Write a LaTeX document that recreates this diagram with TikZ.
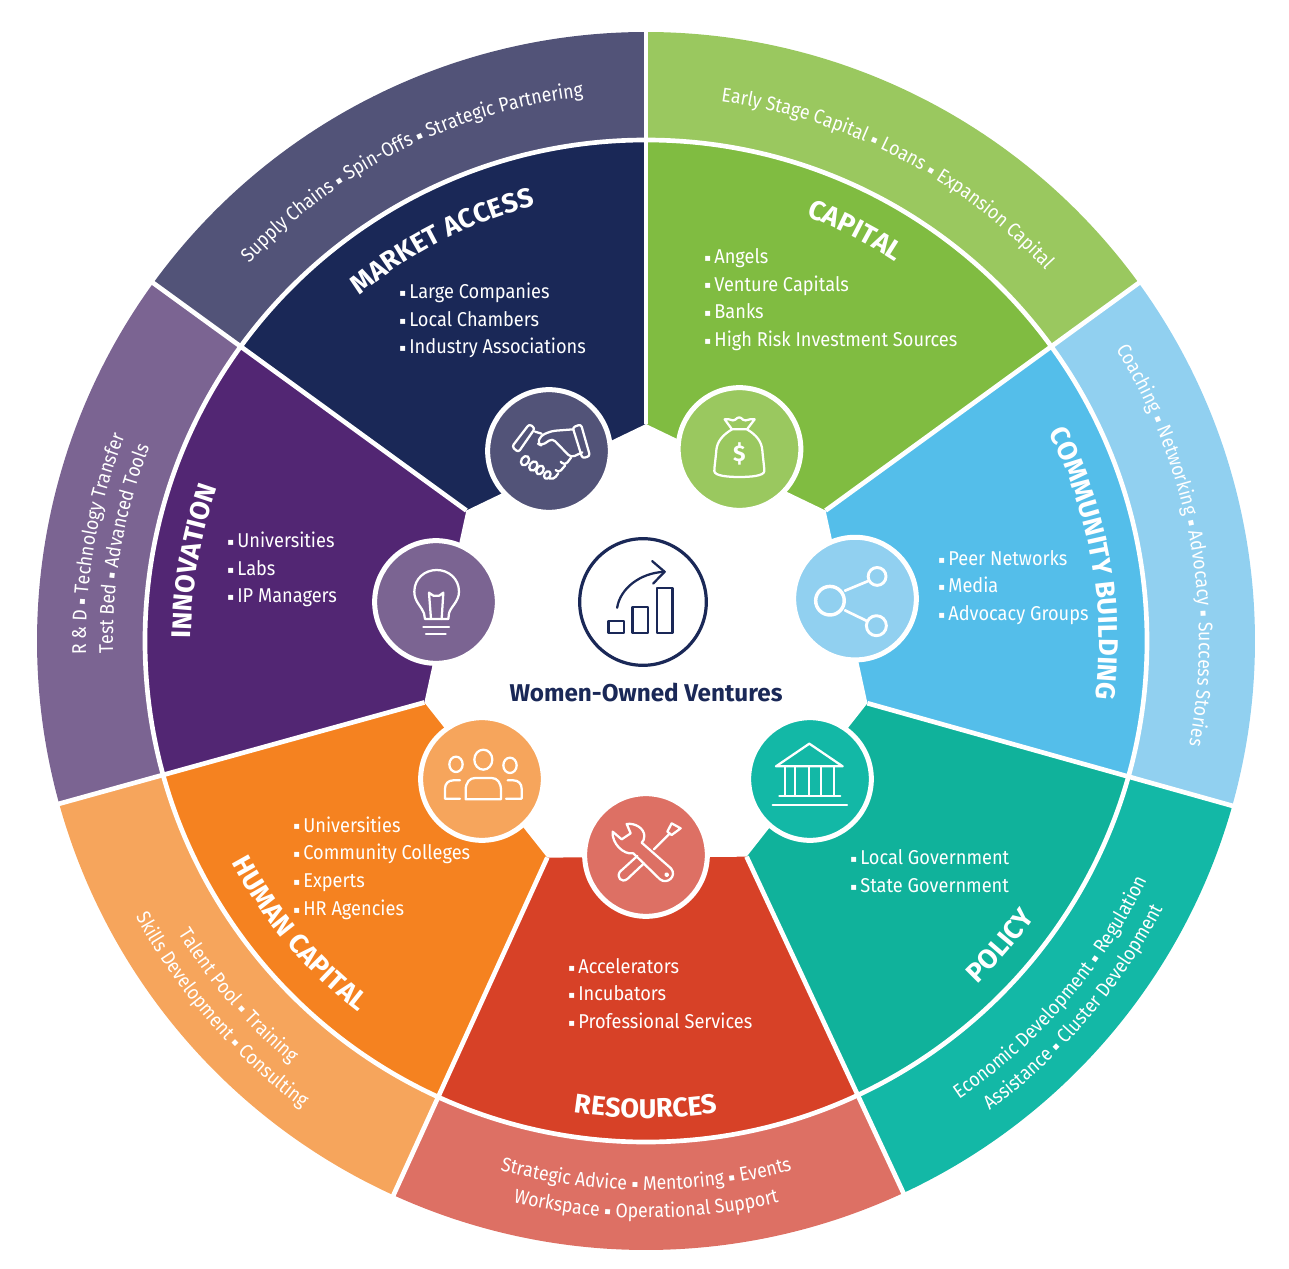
\documentclass[tikz,border=0pt]{standalone}
\usepackage{fontspec}
\usetikzlibrary{decorations.text}
\setmainfont{Fira Sans}
\newfontfamily\ringfam[FakeStretch=.89]{Fira Sans}
\newfontfamily\listfam[FakeStretch=.91]{Fira Sans}
\newfontfamily\headfam{Fira Sans}
\newfontfamily\markfam{DejaVu Sans}
\newcommand{\rsq}{\raisebox{1.6pt}{\markfam\fontsize{7.5}{8}\selectfont ▪}}
\newcommand{\lsq}{\rsq\hspace{2.5pt}}
\newcommand{\ringfont}{\color{white}\ringfam\fontsize{14.9}{17}\selectfont}
\newcommand{\headfont}{\color{white}\headfam\bfseries\fontsize{20.3}{24}\selectfont}
% text on arcs: font, radius, middle angle, text
\newcommand{\clockarc}[4]{\path[decorate,decoration={text along path,text={|#1|#4},text align=center}]
  (#3+35:#2) arc[start angle=#3+35,delta angle=-70,radius=#2];}
\newcommand{\antiarc}[4]{\path[decorate,decoration={text along path,text={|#1|#4},text align=center}]
  (#3-35:#2) arc[start angle=#3-35,delta angle=70,radius=#2];}
\definecolor{marketdark}{HTML}{1A2857}
\definecolor{marketlight}{HTML}{525378}
\definecolor{capitaldark}{HTML}{80BC41}
\definecolor{capitallight}{HTML}{9AC85F}
\definecolor{communitydark}{HTML}{54BEEA}
\definecolor{communitylight}{HTML}{91D0F0}
\definecolor{policydark}{HTML}{10B29B}
\definecolor{policylight}{HTML}{13B8A6}
\definecolor{resourcesdark}{HTML}{D74127}
\definecolor{resourceslight}{HTML}{DD7064}
\definecolor{humandark}{HTML}{F58220}
\definecolor{humanlight}{HTML}{F6A55C}
\definecolor{innovationdark}{HTML}{522673}
\definecolor{innovationlight}{HTML}{7B6492}
\tikzset{
  seam/.style={draw=white,line width=3.5pt},
  listbox/.style={anchor=west,inner sep=0pt,text=white,align=left,font=\listfam\fontsize{15}{20.8}\selectfont},
  iconcircle/.style={circle,draw=white,line width=3.75pt,minimum size=92pt,inner sep=0pt},
  icon/.style={draw=white,line width=1.7pt,line join=round,line cap=round},
}

\begin{document}
\begin{tikzpicture}[x=.75pt,y=.75pt]
  \useasboundingbox (-646,-627) rectangle (643,641);
  % wedges
  \foreach \from/\to/\dark/\light in {
    90/36/capitaldark/capitallight,
    36/-15.7/communitydark/communitylight,
    -15.7/-65/policydark/policylight,
    -65/-114.5/resourcesdark/resourceslight,
    -114.5/-164.5/humandark/humanlight,
    -164.5/-216/innovationdark/innovationlight,
    -216/-270/marketdark/marketlight}{
    \fill[\light] (0,0) -- (\from:609) arc[start angle=\from,end angle=\to,radius=609] -- cycle;
    \fill[\dark] (0,0) -- (\from:501) arc[start angle=\from,end angle=\to,radius=501] -- cycle;
  }
  \draw[seam] (0,0) circle[radius=501];
  % white middle
  \coordinate (v1) at (90:217);
  \coordinate (v2) at (36:222);
  \coordinate (v3) at (-15.7:230);
  \coordinate (v4) at (-65:238);
  \coordinate (v5) at (-114.5:238);
  \coordinate (v6) at (-164.5:230);
  \coordinate (v7) at (144:222);
  \coordinate (e1) at (90:614);
  \coordinate (e2) at (36:614);
  \coordinate (e3) at (-15.7:614);
  \coordinate (e4) at (-65:614);
  \coordinate (e5) at (-114.5:614);
  \coordinate (e6) at (-164.5:614);
  \coordinate (e7) at (144:614);
  \foreach \i in {1,...,7}
    \draw[seam] (v\i) -- (e\i);
  \fill[white] (v1) -- (v2) -- (v3) -- (v4) -- (v5) -- (v6) -- (v7) -- cycle;

  % outer ring texts
  \clockarc{\ringfont}{548}{116.5}{Supply Chains {\rsq} Spin-Offs {\rsq} Strategic Partnering}
  \clockarc{\ringfont}{545}{62.5}{Early Stage Capital {\rsq} Loans {\rsq} Expansion Capital}
  \clockarc{\ringfont}{553}{10.5}{Coaching {\rsq} Networking {\rsq} Advocacy {\rsq} Success Stories}
  \antiarc{\ringfont}{555}{-40.6}{Economic Development {\rsq} Regulation}
  \antiarc{\ringfont}{582}{-40.6}{Assistance {\rsq} Cluster Development}
  \antiarc{\ringfont}{549}{-90}{Strategic Advice {\rsq} Mentoring {\rsq} Events}
  \antiarc{\ringfont}{577}{-90}{Workspace {\rsq} Operational Support}
  \antiarc{\ringfont}{552}{-139}{Talent Pool {\rsq} Training}
  \antiarc{\ringfont}{580}{-139}{Skills Development {\rsq} Consulting}
  \clockarc{\ringfont}{560}{170}{R {\&} D {\rsq} Technology Transfer}
  \clockarc{\ringfont}{533}{170}{Test Bed {\rsq} Advanced Tools}

  % titles
  \clockarc{\headfont}{449}{117}{MARKET ACCESS}
  \clockarc{\headfont}{454}{63}{CAPITAL}
  \clockarc{\headfont}{453}{10}{COMMUNITY BUILDING}
  \antiarc{\headfont}{477}{-40.7}{POLICY}
  \antiarc{\headfont}{477}{-90}{RESOURCES}
  \antiarc{\headfont}{470}{-139.8}{HUMAN CAPITAL}
  \clockarc{\headfont}{455}{170}{INNOVATION}

  % lists
  \node[listbox] (marketlist) at (-247,320.5) {\lsq Large Companies\\\lsq Local Chambers\\\lsq Industry Associations};
  \node[listbox] (capitallist) at (58,341.5) {\lsq Angels\\\lsq Venture Capitals\\\lsq Banks\\\lsq High Risk Investment Sources};
  \node[listbox] (communitylist) at (292,53.5) {\lsq Peer Networks\\\lsq Media\\\lsq Advocacy Groups};
  \node[listbox] (policylist) at (204,-230) {\lsq Local Government\\\lsq State Government};
  \node[listbox] (resourceslist) at (-78,-352.5) {\lsq Accelerators\\\lsq Incubators\\\lsq Professional Services};
  \node[listbox] (humanlist) at (-353,-227) {\lsq Universities\\\lsq Community Colleges\\\lsq Experts\\\lsq HR Agencies};
  \node[listbox] (innovationlist) at (-419,71.5) {\lsq Universities\\\lsq Labs\\\lsq IP Managers};

  % icon discs
  \node[iconcircle,fill=marketlight] (marketdisc) at (-97,190) {};
  \node[iconcircle,fill=capitallight] (capitaldisc) at (93.5,192) {};
  \node[iconcircle,fill=communitylight] (communitydisc) at (209,42.4) {};
  \node[iconcircle,fill=policylight] (policydisc) at (164,-138) {};
  \node[iconcircle,fill=resourceslight] (resourcesdisc) at (0,-214) {};
  \node[iconcircle,fill=humanlight] (humandisc) at (-164,-138) {};
  \node[iconcircle,fill=innovationlight] (innovationdisc) at (-210,39) {};

  % handshake
  \begin{scope}[shift={(-156,246)},xscale=1/3,yscale=-1/3,icon]
    \draw[rounded corners=2pt] (118,87) -- (135,100) -- (85,172) -- (66,155) -- cycle;
    \draw[rounded corners=2pt] (248,97) -- (273,88) -- (300,183) -- (277,190) -- cycle;
    \draw[rounded corners=3pt] (250,103) -- (185,108) -- (152,122) -- (143,146) -- (155,152) -- (187,130) -- (243,188) -- (277,172);
    \draw (135,110) -- (155,116);
    \draw[rounded corners=3pt] (243,188) -- (225,212) -- (212,200);
    \draw[rounded corners=3pt] (225,212) -- (205,235) -- (197,225);
    \draw[rounded corners=3pt] (205,235) -- (190,255) -- (178,250);
    \draw[rotate around={-57:(105,197)}] (105,197) ellipse[x radius=15,y radius=11];
    \draw[rotate around={-57:(130,213)}] (130,213) ellipse[x radius=15,y radius=11];
    \draw[rotate around={-57:(150,225)}] (150,225) ellipse[x radius=14,y radius=10];
    \draw[rotate around={-57:(172,240)}] (172,240) ellipse[x radius=12,y radius=9];
  \end{scope}
  % money bag
  \begin{scope}[shift={(36,249)},xscale=1/3,yscale=-1/3,icon]
    \draw (150,112) -- (128,82) .. controls (145,78) and (150,90) .. (160,83) .. controls (168,74) and (175,74) .. (183,83) .. controls (193,90) and (200,78) .. (218,82) -- (195,112) -- cycle;
    \draw (150,112) .. controls (120,130) and (105,150) .. (103,175) .. controls (101,200) and (97,225) .. (97,237) .. controls (97,252) and (140,255) .. (172,255) .. controls (205,255) and (247,252) .. (247,237) .. controls (247,225) and (243,200) .. (241,175) .. controls (239,150) and (225,130) .. (195,112);
    \node[draw=none,text=white,font=\headfam\bfseries\fontsize{17}{20}\selectfont] (dollar) at (172,185) {\$};
  \end{scope}
  % share
  \begin{scope}[shift={(-276,261)},xscale=1/2.8,yscale=-1/2.8]
    \draw[icon,line width=2.6pt] (1288,618) circle[radius=40];
    \draw[icon,line width=2.2pt] (1420,550) circle[radius=25];
    \draw[icon,line width=2.2pt] (1418,688) circle[radius=28];
    \draw[icon,line width=2pt] (1330,590) -- (1395,563);
    \draw[icon,line width=2pt] (1330,645) -- (1392,675);
  \end{scope}
  % building
  \begin{scope}[shift={(106,-81)},xscale=1/3,yscale=-1/3,icon]
    \draw (172,65) -- (72,133) -- (272,133) -- cycle;
    \foreach \colx in {100,130,170,208,245}
      \draw (\colx,135) -- (\colx,222);
    \draw (82,223) -- (265,223);
    \draw (62,248) -- (285,248);
  \end{scope}
  % tools
  \begin{scope}[shift={(-56,-159)},xscale=1/3,yscale=-1/3,icon]
    \draw (110,72) .. controls (135,68) and (163,85) .. (163,108) .. controls (163,118) and (160,123) .. (155,128) -- (243,205) .. controls (262,228) and (232,255) .. (210,238) -- (130,160) .. controls (100,165) and (65,130) .. (68,95) -- (95,118) -- (122,100) -- cycle;
    \draw (230,224) circle[radius=4];
    \draw (232,95) -- (245,70) -- (272,85) -- (245,105) -- cycle;
    \draw (238,102) -- (192,148);
    \draw (142,168) -- (90,215) .. controls (78,232) and (95,250) .. (112,237) -- (162,190);
  \end{scope}
  % people
  \begin{scope}[shift={(-221,-81)},xscale=1/3,yscale=-1/3,icon]
    \draw (175,113) ellipse[x radius=27,y radius=30];
    \draw (93,127) ellipse[x radius=20,y radius=23];
    \draw (255,130) ellipse[x radius=20,y radius=23];
    \draw (122,232) -- (122,205) .. controls (122,180) and (135,168) .. (150,168) -- (200,168) .. controls (217,168) and (228,182) .. (228,205) -- (228,232) -- cycle;
    \draw (105,175) -- (85,175) .. controls (70,175) and (60,185) .. (60,200) -- (60,230) -- (105,230);
    \draw (248,175) -- (265,175) .. controls (280,175) and (290,185) .. (290,200) -- (290,230) -- (243,230);
  \end{scope}
  % bulb
  \begin{scope}[shift={(-266,96)},xscale=1/3,yscale=-1/3,icon]
    \draw (135,222) -- (132,205) .. controls (125,185) and (103,170) .. (103,140) .. controls (103,100) and (135,75) .. (170,75) .. controls (205,75) and (237,100) .. (237,140) .. controls (237,170) and (212,185) .. (207,205) -- (205,222) -- cycle;
    \draw (153,222) -- (147,143) -- (160,152) -- (178,152) -- (190,143) -- (185,222);
    \draw (130,245) -- (207,245);
    \draw (138,268) -- (197,268);
  \end{scope}

  % middle
  \node[circle,draw=marketdark,line width=2.4pt,minimum size=95pt,inner sep=0pt] (growthdisc) at (-3,39) {};
  \begin{scope}[shift={(-276,261)},xscale=1/2.8,yscale=-1/2.8,icon,draw=marketdark]
    \draw (668,675) rectangle (712,708);
    \draw (735,635) rectangle (778,708);
    \draw (803,583) rectangle (847,708);
    \draw (692,638) .. controls (700,585) and (755,540) .. (825,537);
    \draw (790,507) -- (825,537) -- (793,570);
  \end{scope}
  \node[text=marketdark,font=\headfam\bfseries\fontsize{18.2}{22}\selectfont] (venturesname) at (0,-51) {Women-Owned Ventures};
\end{tikzpicture}
\end{document}
